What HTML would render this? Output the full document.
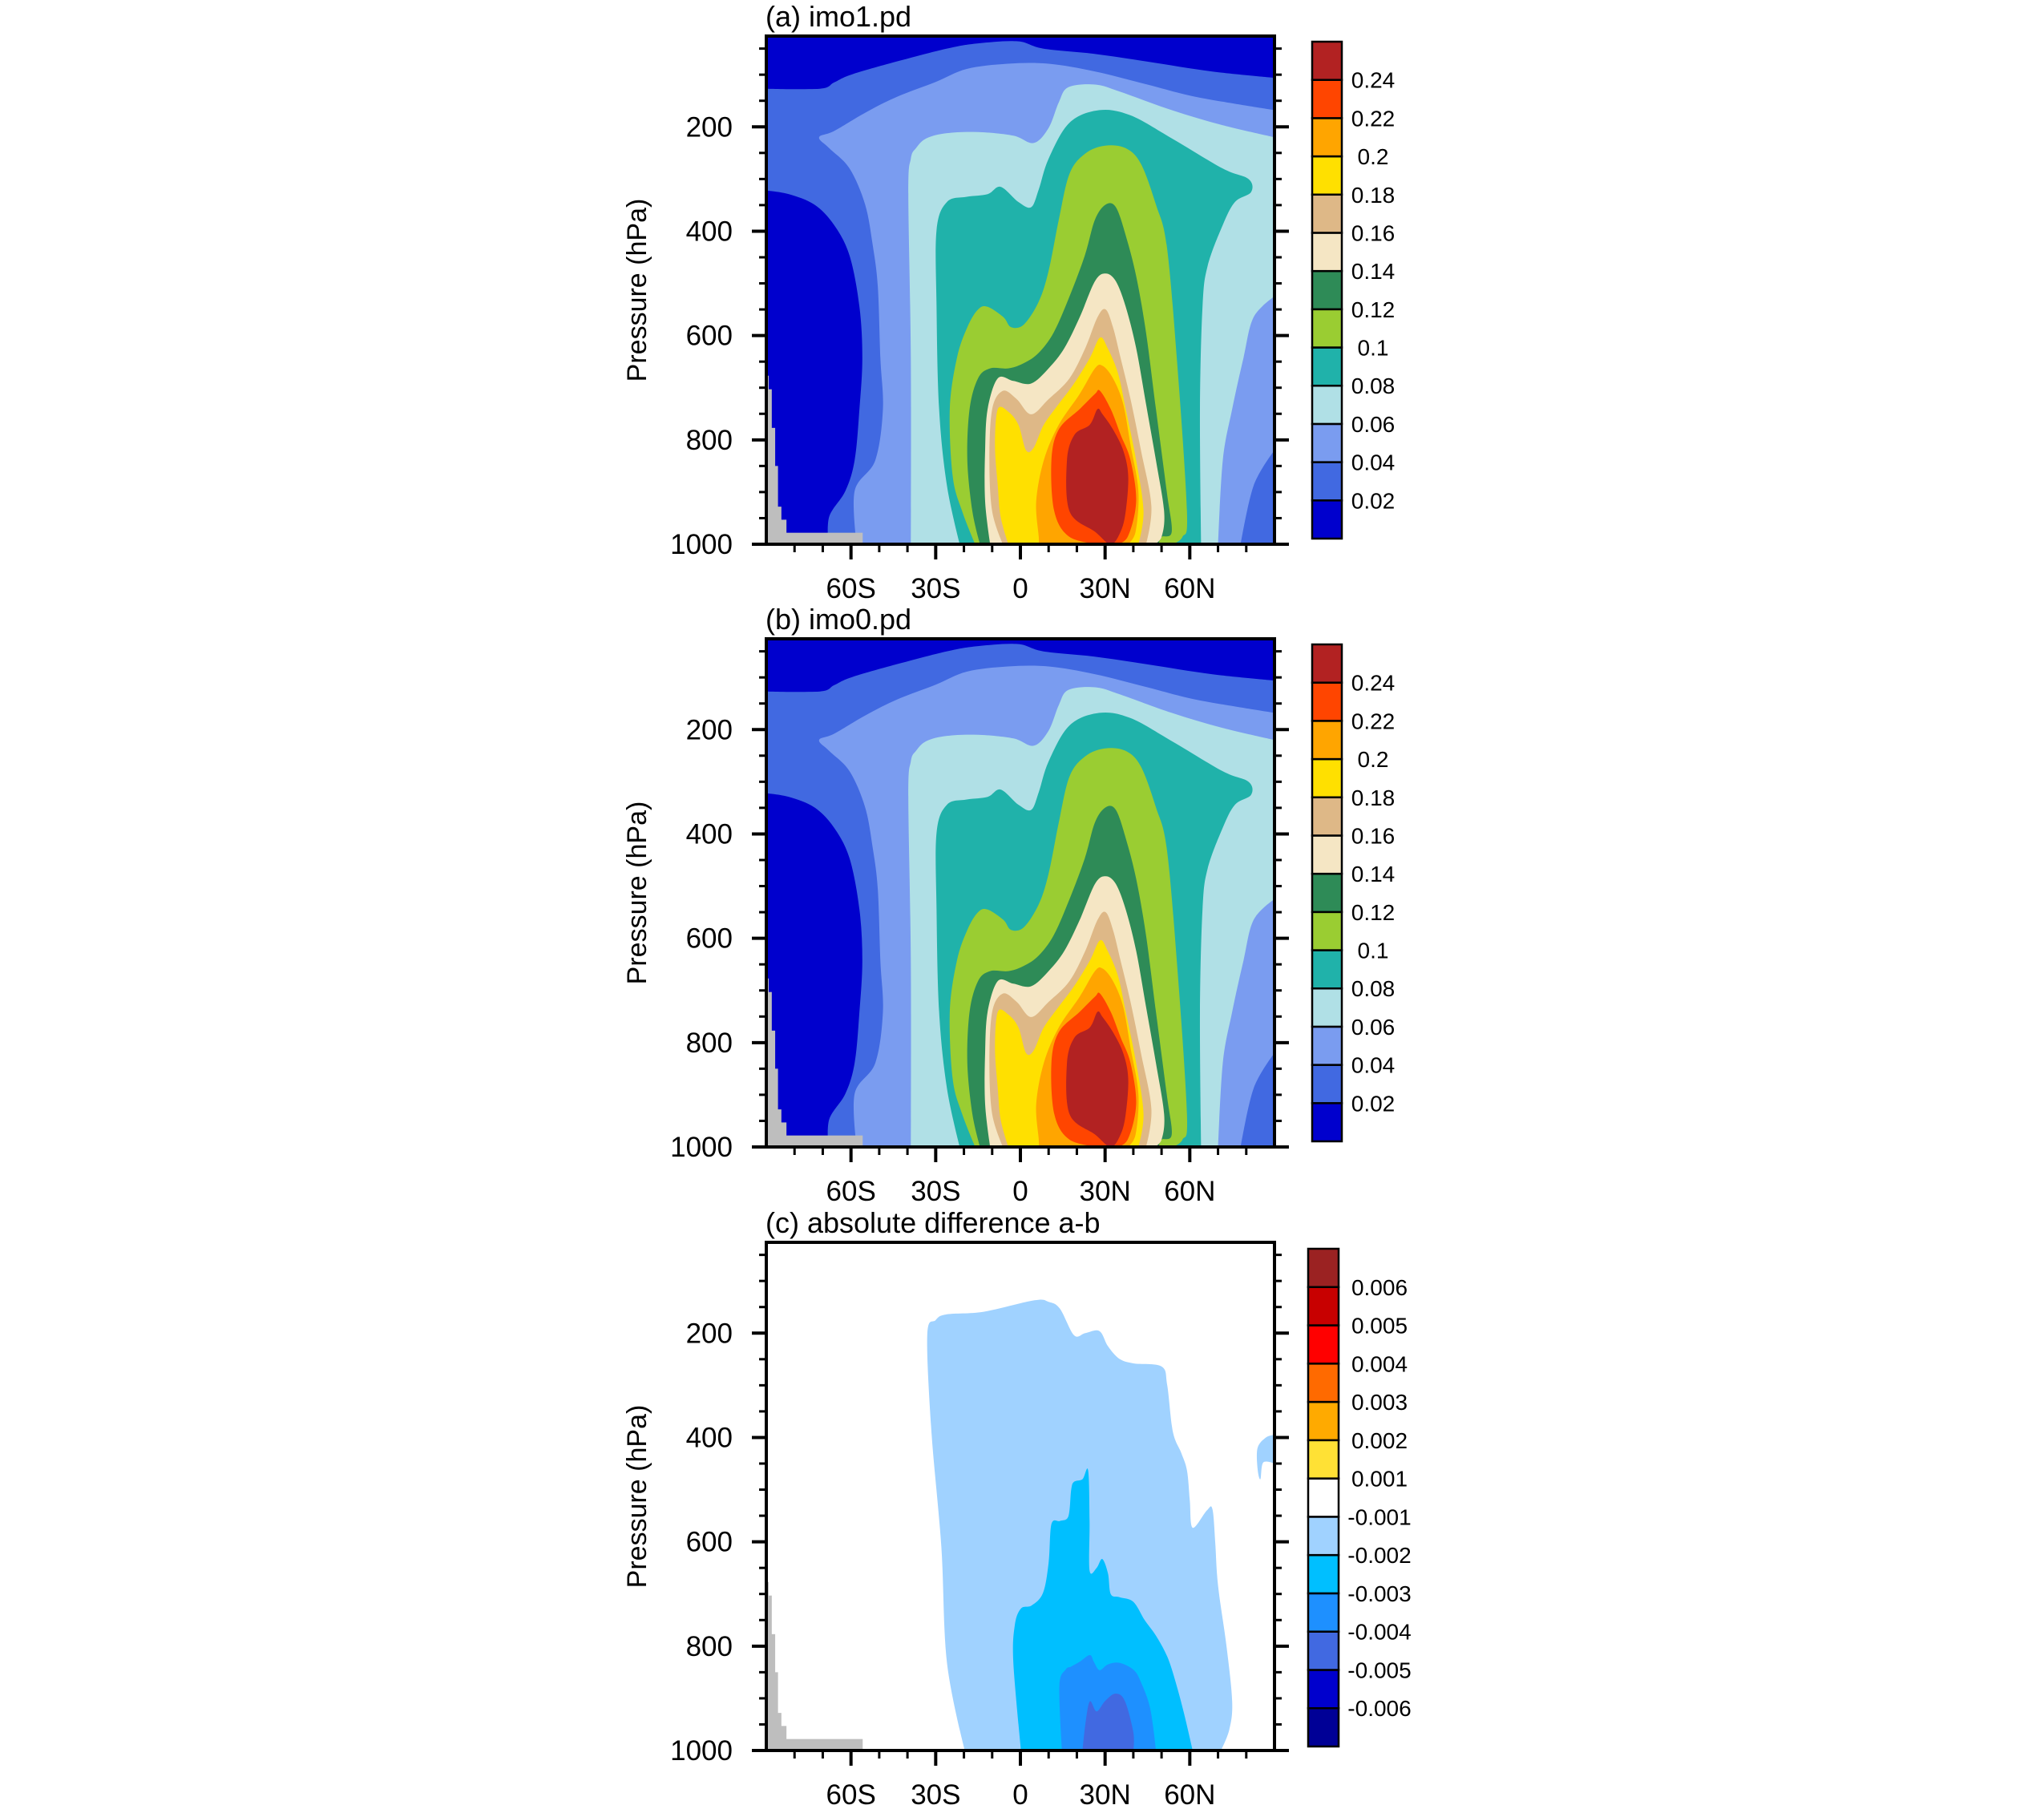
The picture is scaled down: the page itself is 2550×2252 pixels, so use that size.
<!DOCTYPE html>
<html><head><meta charset="utf-8"><style>
html,body{margin:0;padding:0;background:#fff;}
svg{display:block;font-family:"Liberation Sans",Arial,sans-serif;}
</style></head>
<body>
<svg id="fig" xmlns="http://www.w3.org/2000/svg" width="2550" height="2252" viewBox="0 0 2550 2252"></svg>
<script>
// ---------- data ----------
const panelTitles = ["(a) imo1.pd", "(b) imo0.pd", "(c) absolute difference a-b"];
const latTicks = [-60, -30, 0, 30, 60];
const latTickLabels = ["60S", "30S", "0", "30N", "60N"];
const presTicks = [200, 400, 600, 800, 1000];
const presTickLabels = ["200", "400", "600", "800", "1000"];
const levelsAB = ["0.02","0.04","0.06","0.08","0.1","0.12","0.14","0.16","0.18","0.2","0.22","0.24"];
const colorsAB = ["#0000cd","#4169e1","#7a9cf0","#b0e0e6","#20b2aa","#9acd32","#2e8b57","#f5e6c4","#deb887","#ffe000","#ffa500","#ff4500","#b22222"];
const levelsC = ["-0.006","-0.005","-0.004","-0.003","-0.002","-0.001","0.001","0.002","0.003","0.004","0.005","0.006"];
const colorsCbar = ["#000096","#0000cd","#4169e1","#1e90ff","#00bfff","#a0d2ff","#ffffff","#ffe135","#ffaa00","#ff6a00","#ff0000","#c80000","#9b2222"];

// filled-contour regions (lat, hPa) for panels a & b: region where value >= level
const ge002 = [[-90,127],[-71,127],[-66,115],[-60,100],[-44,75],[-26,50],[-15,40],[-1,36],[8,50],[26,60],[45,75],[68,94],[90,106],[90,1000],[-68,1000],[-67.7,947],[-62,898],[-58.7,839],[-57,741],[-56,643],[-57,545],[-60.5,447],[-66,388],[-73,349],[-82,329],[-90,322]];
const ge004 = [[-71.3,220],[-66,208],[-55,173],[-44,143],[-30,114],[-19,89],[-4.5,79],[10,79],[26.5,94],[45,119],[62.7,143],[90,168],[90,820],[82.6,888],[78,1000],[-58,1000],[-58.7,898],[-51.4,839],[-48.7,741],[-49.6,643],[-50.5,506],[-52.3,427],[-55,349],[-60.5,280],[-67.7,241]];
const ge006 = [[-38.8,1000],[-38.8,643],[-39.7,329],[-38.8,261],[-37,241],[-33.3,222],[-26,212],[-15,210],[-2.5,217],[4.7,231],[10,202],[13.6,153],[17,124],[26.5,119],[35.5,133],[53.6,168],[71.7,197],[90,220],[90,525],[82.6,565],[79,643],[75,741],[71.7,839],[70,1000]];
const ge008 = [[-21.5,1000],[-26,888],[-28.8,741],[-29.7,545],[-29.7,398],[-26,344],[-19,334],[-11.6,329],[-7,315],[-0.7,344],[3.8,354],[6.5,320],[10,261],[17.4,192],[28,168],[39,178],[53.6,222],[71.7,280],[80.8,300],[81.7,325],[76,344],[71.7,388],[66.3,467],[64.5,545],[63.6,741],[64,1000]];
const ge010 = [[-16,1000],[-20.6,937],[-24,869],[-25,741],[-22.5,643],[-18.8,584],[-15,550],[-11.6,545],[-6,565],[-3.3,584],[1.2,579],[6.5,535],[10,476],[13.6,378],[17.4,290],[23,251],[30,236],[37.3,241],[42.7,271],[48,349],[51.8,427],[55.4,643],[59,937],[57.4,986],[53.6,1000]];
const ge012 = [[-14.3,1000],[-17,937],[-18.8,839],[-18,741],[-15,682],[-10.7,663],[-4.3,663],[1.2,653],[6.5,633],[11.8,594],[17.4,525],[22.8,447],[26.4,378],[30.2,349],[33.8,354],[37.3,408],[41,486],[44.5,594],[48,741],[51.8,898],[53.6,976],[50,986],[49,1000]];
const ge014 = [[-10.7,1000],[-12.5,918],[-12.5,820],[-11.6,741],[-8,682],[-2.5,687],[3.8,692],[10,663],[15.6,624],[21,565],[26.4,496],[30.2,481],[33.8,496],[37.3,545],[41,624],[44.5,731],[48,839],[50.9,937],[50,986],[47.3,1000]];
const ge016 = [[-6.2,1000],[-10,937],[-11,839],[-10,741],[-6.2,706],[-1.3,722],[3.8,751],[10,722],[17.4,682],[23,624],[27.3,565],[30.2,550],[32.8,584],[35.5,643],[39,722],[42.7,820],[46.4,927],[44.5,1000]];
const ge018 = [[-4.3,1000],[-7,947],[-8,888],[-9,810],[-8,741],[-4.3,746],[-0.7,771],[2,820],[4.7,815],[8.3,771],[13.6,731],[19,692],[24.6,643],[28.2,604],[30.9,624],[34.6,673],[37.3,741],[41,839],[43.6,937],[41.8,1000]];
const ge020 = [[6.5,1000],[6.5,986],[5.6,918],[8.3,839],[13.6,771],[21,712],[26.4,663],[29.1,658],[32.8,682],[36.4,731],[39,810],[41.8,898],[40.8,976],[38,1000]];
const ge022 = [[17.4,986],[12,937],[11,839],[13.6,780],[21,741],[26.4,712],[28.2,706],[32,741],[35.5,790],[39,839],[41,918],[38,986],[33.6,1000],[28,1000]];
const ge024 = [[32,1000],[26.4,976],[17.4,937],[16.5,839],[19.2,790],[24.6,771],[27.3,741],[29.1,751],[32.8,780],[36.4,820],[38.2,869],[37.3,937],[35.5,976]];
const contoursA = [ge002, ge004, ge006, ge008, ge010, ge012, ge014, ge016, ge018, ge020, ge022, ge024];
const contoursB = contoursA;

// panel c: region where difference <= level
const le0001 = [[-19.7,1000],[-26,832],[-28,610],[-31.5,389],[-33,204],[-30,175],[-26,164],[-13,159],[5,137],[10,140],[14,153],[19,204],[23,200],[28,196],[31,225],[35,249],[40,258],[50,264],[52,300],[54,389],[57,430],[59,463],[60,520],[61,573],[66,540],[68,537],[69,600],[70,684],[73,800],[75,906],[74,960],[71,1000]];
const le0001b = [[84,460],[84,420],[87,400],[90,395],[90,450],[86,448],[85,480]];
const le0002 = [[0.2,1000],[-2.5,832],[-2,760],[0.2,728],[4,722],[8,698],[10,640],[11,566],[14,560],[17,551],[18,500],[19,485],[22,480],[24,463],[24.5,560],[24.5,655],[27,650],[29,633],[31,660],[32,700],[35,706],[40,715],[44,750],[48,780],[52,820],[55,869],[58,930],[61,1000]];
const le0003 = [[14.7,1000],[13.8,876],[16,845],[18,839],[21,830],[24.6,817],[26,830],[28,846],[31,835],[35,832],[40,845],[42.7,869],[46,920],[48,1000]];
const le0004 = [[22,1000],[23,950],[24.6,906],[27,925],[30,905],[33.7,891],[37,905],[40,965],[40,1000]];
const contoursC = [le0001, le0001b, le0002, le0003, le0004];
const contoursCColors = ["#a0d2ff","#a0d2ff","#00bfff","#1e90ff","#4169e1"];

// land mask: surface pressure steps
const maskLatEdges = [-90,-89.3,-88.2,-87.0,-86.0,-84.8,-83.0,-56.0];
const maskSurfP = [677,703,777,850,928,953,978];

// ---------- layout ----------
const NS = "http://www.w3.org/2000/svg";
const svg = document.getElementById("fig");
const FX0 = 956, FX1 = 1590, FH = 634, PTOP = 26;
const panelTops = [45, 797, 1550];
function xOf(lat){ return FX0 + (lat + 90) / 180 * (FX1 - FX0); }
function yOf(p, top){ return top + (p - PTOP) / (1000 - PTOP) * FH; }
function el(tag, attrs, parent){
  const e = document.createElementNS(NS, tag);
  for (const k in attrs) e.setAttribute(k, attrs[k]);
  (parent || svg).appendChild(e);
  return e;
}
function onEdge(q){ return q[0] <= -90 || q[0] >= 90 || q[1] >= 1000; }
function poly(pts, top, fill, parent){
  const n = pts.length;
  const P = pts.map(q => [xOf(q[0]), yOf(q[1], top)]);
  let d = "M" + P[0][0].toFixed(1) + "," + P[0][1].toFixed(1);
  for (let i = 0; i < n; i++){
    const a = pts[i], b = pts[(i + 1) % n];
    const p1 = P[i], p2 = P[(i + 1) % n];
    if (onEdge(a) && onEdge(b)){
      d += " L" + p2[0].toFixed(1) + "," + p2[1].toFixed(1);
    } else {
      const p0 = P[(i - 1 + n) % n], p3 = P[(i + 2) % n];
      const t = 1 / 6;
      const c1 = onEdge(a) && onEdge(pts[(i - 1 + n) % n]) ? p1 : [p1[0] + (p2[0] - p0[0]) * t, p1[1] + (p2[1] - p0[1]) * t];
      const c2 = onEdge(b) && onEdge(pts[(i + 2) % n]) ? p2 : [p2[0] - (p3[0] - p1[0]) * t, p2[1] - (p3[1] - p1[1]) * t];
      d += " C" + c1[0].toFixed(1) + "," + c1[1].toFixed(1) + " " + c2[0].toFixed(1) + "," + c2[1].toFixed(1) + " " + p2[0].toFixed(1) + "," + p2[1].toFixed(1);
    }
  }
  d += " Z";
  return el("path", {d: d, fill: fill}, parent);
}

function drawPanel(i){
  const top = panelTops[i];
  const g = el("g", {});
  
  
  const clipId = "clip" + i;
  const cp = el("clipPath", {id: clipId}, g);
  el("rect", {x: FX0, y: top, width: FX1 - FX0, height: FH}, cp);
  const plot = el("g", {"clip-path": "url(#" + clipId + ")"}, g);
  
  
  if (i < 2){
    const bg = el("rect", {x: FX0, y: top, width: FX1 - FX0, height: FH, fill: colorsAB[0]}, plot);
    
    
    const cs = i === 0 ? contoursA : contoursB;
    cs.forEach((c, k) => {
      const p = poly(c, top, colorsAB[k + 1], plot);
      
      
    });
  } else {
    el("rect", {x: FX0, y: top, width: FX1 - FX0, height: FH, fill: "#fff"}, plot);
    contoursC.forEach((c, k) => {
      const p = poly(c, top, contoursCColors[k], plot);
      
      
    });
  }
  for (let k = 0; k < maskSurfP.length; k++){
    const x0 = xOf(maskLatEdges[k]), x1 = xOf(maskLatEdges[k + 1]);
    const y0 = yOf(maskSurfP[k], top);
    const r = el("rect", {x: x0, y: y0, width: x1 - x0 + 0.5, height: top + FH - y0, fill: "#bebebe"}, plot);
    
    
  }
  const fr = el("rect", {x: FX0, y: top, width: FX1 - FX0, height: FH, fill: "none", stroke: "#000", "stroke-width": 4}, g);
  
  
  for (let p = 50; p <= 1000; p += 50){
    const major = presTicks.indexOf(p) >= 0;
    const L = major ? 18 : 9;
    const y = yOf(p, top);
    el("line", {x1: FX0 - L, x2: FX0, y1: y, y2: y, stroke: "#000", "stroke-width": major ? 4 : 3}, g);
    el("line", {x1: FX1, x2: FX1 + L, y1: y, y2: y, stroke: "#000", "stroke-width": major ? 4 : 3}, g);
  }
  presTicks.forEach((p, k) => {
    const t = el("text", {x: 914, y: yOf(p, top) + 12, "text-anchor": "end", "font-size": 35}, g);
    t.textContent = presTickLabels[k];
    
    
  });
  for (let lat = -80; lat <= 80; lat += 10){
    const major = latTicks.indexOf(lat) >= 0;
    const x = xOf(lat);
    el("line", {x1: x, x2: x, y1: top + FH, y2: top + FH + (major ? 19 : 10), stroke: "#000", "stroke-width": major ? 4 : 3}, g);
  }
  latTicks.forEach((lat, k) => {
    const t = el("text", {x: xOf(lat), y: top + FH + 67, "text-anchor": "middle", "font-size": 35}, g);
    t.textContent = latTickLabels[k];
    
    
  });
  const cy = top + FH / 2;
  const yt = el("text", {x: 806, y: cy, "text-anchor": "middle", "font-size": 34, transform: "rotate(-90 806 " + cy + ")"}, g);
  yt.textContent = "Pressure (hPa)";
  
  
  const tt = el("text", {x: 955, y: top - 12, "font-size": 36}, g);
  tt.textContent = panelTitles[i];
  
  
  const cb = el("g", {}, g);
  
  
  let cols, labs, bx0, bx1, by0, by1, lx;
  if (i < 2){ cols = colorsAB; labs = levelsAB; bx0 = 1637; bx1 = 1674; by0 = top + 7; by1 = top + 627; lx = 1713; }
  else { cols = colorsCbar; labs = levelsC; bx0 = 1632; bx1 = 1670; by0 = top + 8; by1 = top + 629; lx = 1721; }
  const n = cols.length;
  const bh = (by1 - by0) / n;
  for (let k = 0; k < n; k++){
    const y = by1 - (k + 1) * bh;
    const r = el("rect", {x: bx0, y: y, width: bx1 - bx0, height: bh, fill: cols[k], stroke: "#000", "stroke-width": 2.5}, cb);
    
    
  }
  labs.forEach((s, k) => {
    const y = by1 - (k + 1) * bh;
    const t = el("text", {x: lx, y: y + 10, "text-anchor": "middle", "font-size": 28}, cb);
    t.textContent = s;
    
    
  });
}
[0, 1, 2].forEach(drawPanel);
</script>
</body></html>
